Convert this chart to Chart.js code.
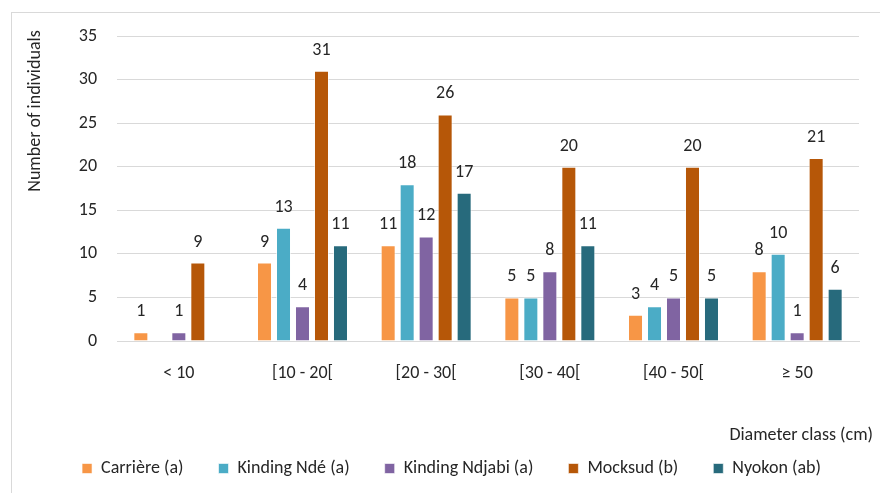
<!DOCTYPE html>
<html>
<head>
<meta charset="utf-8">
<script src="https://cdn.jsdelivr.net/npm/chart.js@4"></script>
<style>
html,body{margin:0;padding:0;background:#fff;}
#wrap{position:relative;width:880px;height:493px;}
</style>
</head>
<body>
<div id="wrap"><canvas id="c" width="880" height="493"></canvas></div>
<script>
const categories = ["< 10", "[10 - 20[", "[20 - 30[", "[30 - 40[", "[40 - 50[", "≥ 50"];
const carriere = [1, 9, 11, 5, 3, 8];
const kindingNde = [0, 13, 18, 5, 4, 10];
const kindingNdjabi = [1, 4, 12, 8, 5, 1];
const mocksud = [9, 31, 26, 20, 20, 21];
const nyokon = [0, 11, 17, 11, 5, 6];
const seriesNames = ["Carrière (a)", "Kinding Ndé (a)", "Kinding Ndjabi (a)", "Mocksud (b)", "Nyokon (ab)"];
const yTicks = [0, 5, 10, 15, 20, 25, 30, 35];
const yTitle = "Number of individuals";
const xTitle = "Diameter class (cm)";

const colors = ["#F79646", "#4BACC6", "#8064A2", "#B65708", "#276A7C"];
const FONT = "Carlito, Lato, 'Liberation Sans', sans-serif";
const FS = 18;
const TXT = "#262626";
const LPAD = 35;

const seriesData = [carriere, kindingNde, kindingNdjabi, mocksud, nyokon];

const extras = {
  id: 'extras',
  afterLayout(chart) {
    const lg = chart.legend;
    if (!lg) return;
    const h = lg.bottom - lg.top;
    const newTop = 467 - LPAD - 7.5;
    lg.top = newTop; lg.bottom = newTop + h;
    lg.left += 22; lg.right += 22;
  },
  beforeDraw(chart) {
    const ctx = chart.ctx;
    ctx.save();
    ctx.strokeStyle = "#d9d9d9";
    ctx.lineWidth = 1;
    ctx.strokeRect(11.5, 12.5, 900, 520);
    ctx.restore();
  },
  afterDraw(chart) {
    const ctx = chart.ctx;
    ctx.save();
    ctx.fillStyle = TXT;
    ctx.font = FS + "px " + FONT;
    ctx.textAlign = "center";
    ctx.textBaseline = "middle";
    chart.data.datasets.forEach((ds, i) => {
      const meta = chart.getDatasetMeta(i);
      meta.data.forEach((bar, j) => {
        const v = ds.data[j];
        if (!v) return;
        ctx.fillText(String(v), bar.x, bar.y - 20.5);
      });
    });
    ctx.save();
    ctx.translate(35, 111);
    ctx.rotate(-Math.PI / 2);
    ctx.font = FS + "px " + FONT;
    ctx.fillText(yTitle, 0, 0);
    ctx.restore();
    ctx.font = FS + "px " + FONT;
    ctx.textAlign = "right";
    ctx.fillText(xTitle, 873, 435);
    ctx.restore();
  }
};

new Chart(document.getElementById('c'), {
  type: 'bar',
  data: {
    labels: categories,
    datasets: seriesNames.map((n, i) => ({
      label: n,
      data: seriesData[i],
      backgroundColor: colors[i],
      borderColor: "rgba(255,255,255,0.6)",
      borderWidth: 1,
      categoryPercentage: 0.768,
      barPercentage: 0.79
    }))
  },
  options: {
    responsive: false,
    animation: false,
    devicePixelRatio: 1,
    layout: { padding: { left: 0, right: 21, top: 36, bottom: 0 } },
    plugins: {
      legend: {
        position: 'bottom',
        labels: {
          boxWidth: 10, boxHeight: 10, padding: LPAD,
          color: TXT,
          font: { family: FONT, size: FS }
        }
      },
      tooltip: { enabled: false }
    },
    scales: {
      x: {
        grid: { display: false, drawTicks: false },
        border: { display: true, color: "#d9d9d9" },
        ticks: { color: TXT, font: { family: FONT, size: FS }, padding: 22 },
        afterFit(s) { s.height = 493 - 341 - (s.chart.legend ? s.chart.legend.height : 0); }
      },
      y: {
        min: 0, max: 35,
        afterBuildTicks(s) { s.ticks = yTicks.map(v => ({ value: v })); },
        grid: { color: "#d9d9d9", drawTicks: false },
        border: { display: false },
        ticks: { color: TXT, font: { family: FONT, size: FS }, padding: 20 },
        afterFit(s) { s.width = 117; }
      }
    }
  },
  plugins: [extras]
});
</script>
</body>
</html>
